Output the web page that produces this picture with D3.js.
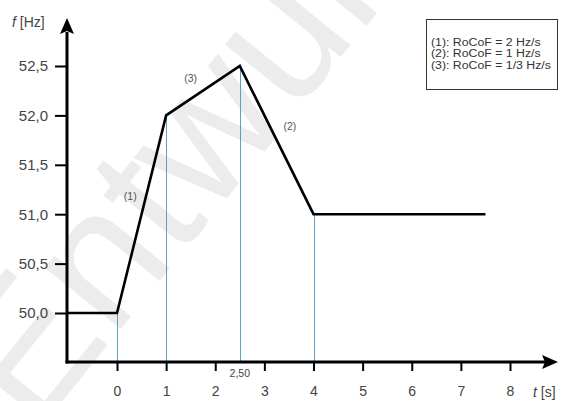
<!DOCTYPE html>
<html><head><meta charset="utf-8">
<script src="https://cdn.jsdelivr.net/npm/d3@7"></script>
<style>
html,body{margin:0;padding:0;background:#fff;}
svg{display:block;font-family:"Liberation Sans",Arial,sans-serif;}
</style></head>
<body><div id="chart"></div>
<script>
// Data
const timeValues = [-1, 0, 1, 2.5, 4, 7.5];
const freqValues = [50, 50, 52, 52.5, 51, 51];
const markerTimes = [0, 1, 2.5, 4];
const xTicks = [0, 1, 2, 3, 4, 5, 6, 7, 8];
const yTicks = [50.0, 50.5, 51.0, 51.5, 52.0, 52.5];
const segmentLabels = ["(1)", "(3)", "(2)"];
const segmentLabelPos = [[0.27, 51.14], [1.5, 52.34], [3.52, 51.85]];
const legendLines = ["(1): RoCoF = 2 Hz/s", "(2): RoCoF = 1 Hz/s", "(3): RoCoF = 1/3 Hz/s"];
const watermarkText = "Entwurf";

const W = 562, H = 401;
const svg = d3.select("#chart").append("svg").attr("width", W).attr("height", H);

const x = d3.scaleLinear().domain([0, 8]).range([117, 510]);
const y = d3.scaleLinear().domain([50, 52.5]).range([313, 66]);
const axisX = 67, axisY = 362;
const FONT = "Liberation Sans, Arial, sans-serif";

// watermark
svg.append("text")
  .attr("x", 0).attr("y", 0)
  .attr("transform", "translate(35,435) rotate(-51)")
  .attr("font-size", 185)
  .attr("font-family", FONT)
  .attr("fill", "#ececec")
  .text(watermarkText);

// vertical marker lines
svg.append("g").selectAll("line").data(markerTimes).join("line")
  .attr("x1", d => Math.round(x(d)) + 0.5).attr("x2", d => Math.round(x(d)) + 0.5)
  .attr("y1", d => y(freqValues[timeValues.indexOf(d)]))
  .attr("y2", axisY)
  .attr("stroke", "#5f9fc4").attr("stroke-width", 1);

// y axis
const yAxis = d3.axisLeft(y).tickValues(yTicks).tickSize(12).tickPadding(7)
  .tickFormat(d => d3.format(".1f")(d).replace(".", ","));
const gy = svg.append("g").attr("transform", `translate(${axisX},0)`).call(yAxis);
gy.select(".domain").remove();
gy.selectAll(".tick line").attr("stroke", "#000").attr("stroke-width", 2);
gy.selectAll(".tick text").attr("font-size", 15).attr("fill", "#444").attr("font-family", FONT);

// x axis
const xAxis = d3.axisBottom(x).tickValues(xTicks).tickSize(9).tickPadding(15)
  .tickFormat(d3.format("d"));
const gx = svg.append("g").attr("transform", `translate(0,${axisY})`).call(xAxis);
gx.select(".domain").remove();
gx.selectAll(".tick line").attr("stroke", "#000").attr("stroke-width", 2);
gx.selectAll(".tick text").attr("font-size", 14).attr("fill", "#444").attr("font-family", FONT);

// axis lines with arrows
svg.append("line").attr("x1", axisX).attr("x2", axisX).attr("y1", axisY + 1.5).attr("y2", 32)
  .attr("stroke", "#000").attr("stroke-width", 3);
svg.append("path").attr("d", `M${axisX},18 L${axisX - 7},34 L${axisX},31 L${axisX + 7},34 Z`).attr("fill", "#000");
svg.append("line").attr("x1", axisX - 1.5).attr("x2", 545).attr("y1", axisY).attr("y2", axisY)
  .attr("stroke", "#000").attr("stroke-width", 3);
svg.append("path").attr("d", `M558,${axisY} L542,${axisY - 7} L545,${axisY} L542,${axisY + 7} Z`).attr("fill", "#000");

// 2,50 label
svg.append("text").attr("x", x(2.5)).attr("y", 377).attr("text-anchor", "middle")
  .attr("font-size", 10.5).attr("fill", "#444").attr("font-family", FONT).text("2,50");

// axis titles
const ft = svg.append("text").attr("x", 12).attr("y", 27).attr("font-size", 14).attr("fill", "#444");
ft.append("tspan").attr("font-style", "italic").text("f");
ft.append("tspan").text(" [Hz]");
const tt = svg.append("text").attr("x", 533).attr("y", 397).attr("font-size", 14).attr("fill", "#444");
tt.append("tspan").attr("font-style", "italic").text("t");
tt.append("tspan").text(" [s]");

// data line
const line = d3.line().x((d, i) => x(timeValues[i])).y(d => y(d));
svg.append("path").datum(freqValues).attr("d", line)
  .attr("fill", "none").attr("stroke", "#000").attr("stroke-width", 2.6)
  .attr("stroke-linejoin", "miter");

// segment labels
svg.append("g").selectAll("text").data(segmentLabels).join("text")
  .attr("x", (d, i) => x(segmentLabelPos[i][0]))
  .attr("y", (d, i) => y(segmentLabelPos[i][1]))
  .attr("text-anchor", "middle").attr("font-size", 10.5).attr("fill", "#555")
  .text(d => d);

// legend
svg.append("rect").attr("x", 426.5).attr("y", 19.5).attr("width", 131).attr("height", 70)
  .attr("fill", "#fff").attr("stroke", "#333").attr("stroke-width", 1);
svg.append("g").selectAll("text").data(legendLines).join("text")
  .attr("transform", (d, i) => `translate(431,${45.5 + i * 11.5}) scale(1.12,1)`)
  .attr("font-size", 11).attr("fill", "#333").text(d => d);
</script></body></html>
